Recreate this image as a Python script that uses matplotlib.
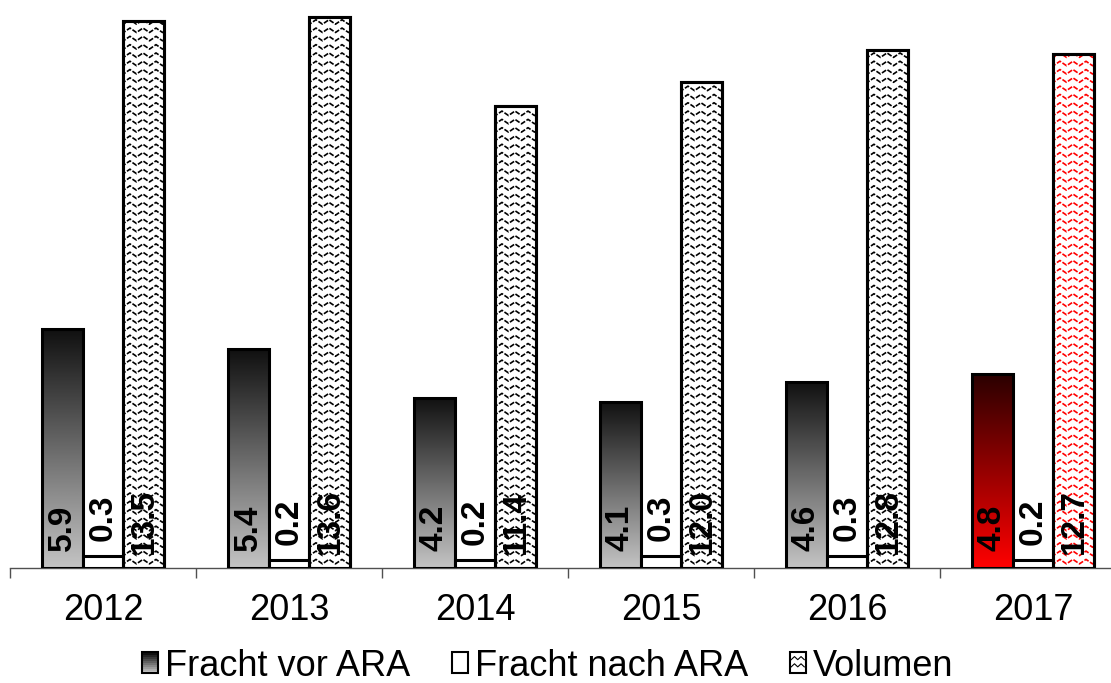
import numpy as np
import matplotlib
matplotlib.use("Agg")
import matplotlib.pyplot as plt
from matplotlib.patches import Rectangle
from matplotlib.lines import Line2D
from matplotlib.colors import LinearSegmentedColormap
from matplotlib.legend_handler import HandlerBase

plt.rcParams['font.family'] = ['Liberation Sans', 'DejaVu Sans']

# ---------------------------------------------------------
# data
# ---------------------------------------------------------
years = ['2012', '2013', '2014', '2015', '2016', '2017']
fracht_vor = [5.9, 5.4, 4.2, 4.1, 4.6, 4.8]
fracht_nach = [0.3, 0.2, 0.2, 0.3, 0.3, 0.2]
volumen = [13.5, 13.6, 11.4, 12.0, 12.8, 12.7]
highlight = '2017'

# ---------------------------------------------------------
# styles
# ---------------------------------------------------------
bw = 0.22
edge_lw = 2.2
grey_grad = ('#101010', '#c4c4c4')   # top, bottom
red_grad = ('#2a0000', '#ff0000')
zz_dx = 0.07     # zigzag period in x units
zz_dy = 0.205    # row spacing
zz_amp = 0.11


def gradient_bar(ax, x, h, colors):
    cmap = LinearSegmentedColormap.from_list('g', [colors[1], colors[0]])
    grad = np.linspace(0, 1, 256).reshape(-1, 1)
    ax.imshow(grad, extent=[x - bw / 2, x + bw / 2, 0, h], origin='lower',
              aspect='auto', cmap=cmap, zorder=2, interpolation='bilinear')
    ax.add_patch(Rectangle((x - bw / 2, 0), bw, h, fill=False,
                           edgecolor='black', linewidth=edge_lw, zorder=4))


def zigzag_bar(ax, x, h, color):
    rect = Rectangle((x - bw / 2, 0), bw, h, facecolor='white',
                     edgecolor='black', linewidth=edge_lw, zorder=2)
    ax.add_patch(rect)
    x0, x1 = x - bw / 2, x + bw / 2
    xs = np.arange(x0 - zz_dx, x1 + zz_dx, zz_dx / 2)
    offs = np.where(np.arange(len(xs)) % 2 == 0, 0.0, zz_amp)
    for y in np.arange(zz_dy / 2, h + zz_dy, zz_dy):
        ln, = ax.plot(xs, y + offs, color=color, linewidth=1.2,
                      linestyle=(0, (3, 1)), zorder=3)
        ln.set_clip_path(rect)
    ax.add_patch(Rectangle((x0, 0), bw, h, fill=False, edgecolor='black',
                           linewidth=edge_lw, zorder=4))


fig = plt.figure(figsize=(11.11, 6.83), dpi=100)
ax = fig.add_axes([10 / 1111, 115 / 683, 1116 / 1111, 567 / 683])

pos = np.arange(len(years)) + 0.5
for i, yr in enumerate(years):
    red = (yr == highlight)
    xv, xn, xz = pos[i] - bw, pos[i], pos[i] + bw
    gradient_bar(ax, xv, fracht_vor[i], red_grad if red else grey_grad)
    ax.add_patch(Rectangle((xn - bw / 2, 0), bw, fracht_nach[i],
                           facecolor='white', edgecolor='black',
                           linewidth=edge_lw, zorder=4))
    zigzag_bar(ax, xz, volumen[i], 'red' if red else 'black')

    lab = dict(rotation=90, ha='center', va='bottom', fontsize=24,
               fontweight='bold', textcoords='offset points', zorder=6)
    ax.annotate('%.1f' % fracht_vor[i], (xv, 0), xytext=(0, 12), **lab)
    ax.annotate('%.1f' % fracht_nach[i], (xn, fracht_nach[i]), xytext=(0, 11), **lab)
    ax.annotate('%.1f' % volumen[i], (xz, 0), xytext=(0, 10), **lab)

ax.set_xlim(0, len(years))
ax.set_ylim(0, 14)
for s in ['top', 'right', 'left']:
    ax.spines[s].set_visible(False)
ax.spines['bottom'].set_color('#505050')
ax.spines['bottom'].set_linewidth(1.0)
ax.set_yticks([])
ax.set_xticks(np.arange(len(years) + 1))
ax.set_xticklabels([])
ax.set_xticks(pos, minor=True)
ax.set_xticklabels(years, minor=True, fontsize=26)
ax.tick_params(axis='x', which='major', direction='out', length=7.5,
               width=1.0, color='#505050')
ax.tick_params(axis='x', which='minor', length=0, pad=18)


# ---------------------------------------------------------
# legend
# ---------------------------------------------------------
class GradHandler(HandlerBase):
    def create_artists(self, legend, orig, xd, yd, w, h, fs, trans):
        cmap = LinearSegmentedColormap.from_list('g', [grey_grad[1], grey_grad[0]])
        n = 10
        arts = []
        for k in range(n):
            arts.append(Rectangle((-xd, -yd + h * k / n), w, h / n + 0.2,
                                  facecolor=cmap(k / (n - 1)), edgecolor='none',
                                  transform=trans))
        arts.append(Rectangle((-xd, -yd), w, h, fill=False, edgecolor='black',
                              linewidth=1.5, transform=trans))
        return arts


class ZigHandler(HandlerBase):
    def create_artists(self, legend, orig, xd, yd, w, h, fs, trans):
        arts = [Rectangle((-xd, -yd), w, h, facecolor='white', edgecolor='black',
                          linewidth=1.5, transform=trans)]
        xs = np.linspace(-xd + 1, -xd + w - 1, 5)
        for fr in (0.3, 0.65):
            ys = -yd + h * (fr + np.array([0, 0.15, 0, 0.15, 0]))
            arts.append(Line2D(xs, ys, color='black', linewidth=0.8, transform=trans))
        return arts


class PlainHandler(HandlerBase):
    def create_artists(self, legend, orig, xd, yd, w, h, fs, trans):
        return [Rectangle((-xd, -yd), w, h, facecolor='white', edgecolor='black',
                          linewidth=1.5, transform=trans)]


h_vor = Rectangle((0, 0), 1, 1)
h_nach = Rectangle((0, 0), 1, 1)
h_vol = Rectangle((0, 0), 1, 1)
fig.legend([h_vor, h_nach, h_vol], ['Fracht vor ARA', 'Fracht nach ARA', 'Volumen'],
           handler_map={h_vor: GradHandler(), h_nach: PlainHandler(), h_vol: ZigHandler()},
           loc='lower center', bbox_to_anchor=(0.493, -0.022), ncol=3, frameon=False,
           fontsize=26, handlelength=0.44, handleheight=0.5, handletextpad=0.2,
           columnspacing=1.15, borderaxespad=0)

fig.savefig('out.png', dpi=100)
